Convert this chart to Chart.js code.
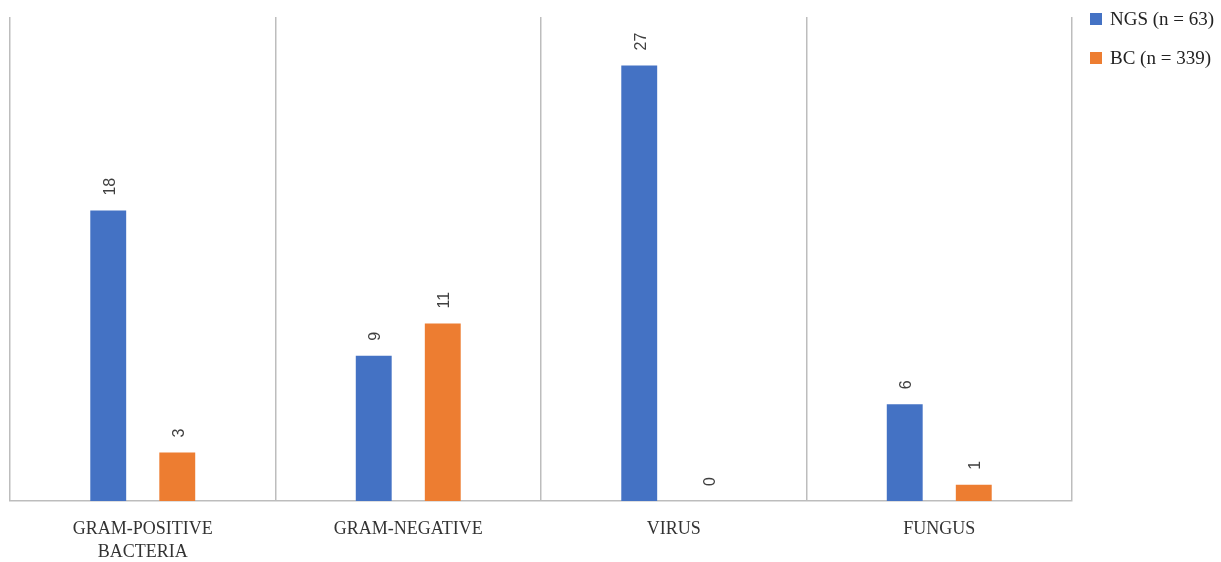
<!DOCTYPE html>
<html>
<head>
<meta charset="utf-8">
<script src="https://cdn.jsdelivr.net/npm/chart.js@4/dist/chart.umd.min.js"></script>
<style>
  html, body { margin: 0; padding: 0; background: #fff; }
  #wrap { width: 1221px; height: 562px; position: relative; }
</style>
</head>
<body>
<div id="wrap"><canvas id="c" width="1221" height="562"></canvas></div>
<script>
const categories = [["GRAM-POSITIVE", "BACTERIA"], "GRAM-NEGATIVE", "VIRUS", "FUNGUS"];
const ngsValues = [18, 9, 27, 6];
const bcValues = [3, 11, 0, 1];
const seriesNames = ["NGS (n = 63)", "BC (n = 339)"];
const seriesColors = ['#4472C4', '#ED7D31'];
const yMax = 30;

const serif = "'Liberation Serif', 'DejaVu Serif', serif";
const sans = "'Liberation Sans', Arial, sans-serif";

// Value labels written upward just above each bar
const barValueLabels = {
  id: 'barValueLabels',
  afterDatasetsDraw(chart) {
    const ctx = chart.ctx;
    ctx.save();
    ctx.font = "16px " + sans;
    ctx.fillStyle = '#404040';
    ctx.textAlign = 'left';
    ctx.textBaseline = 'middle';
    chart.data.datasets.forEach((ds, di) => {
      const meta = chart.getDatasetMeta(di);
      meta.data.forEach((bar, i) => {
        const top = Math.min(bar.y, bar.base);
        ctx.save();
        ctx.translate(bar.x + 2, top - 15);
        ctx.rotate(-Math.PI / 2);
        ctx.fillText(String(ds.data[i]), 0, 0);
        ctx.restore();
      });
    });
    ctx.restore();
  }
};

// Series key in the top-right corner, one swatch per dataset
const sideLegend = {
  id: 'sideLegend',
  afterDraw(chart) {
    const ctx = chart.ctx;
    const x0 = chart.chartArea.right + 18;
    ctx.save();
    ctx.font = "19px " + serif;
    ctx.textAlign = 'left';
    ctx.textBaseline = 'middle';
    chart.data.datasets.forEach((ds, i) => {
      const cy = 19 + i * 39;
      ctx.fillStyle = ds.backgroundColor;
      ctx.fillRect(x0, cy - 6, 12, 12);
      ctx.fillStyle = '#222';
      ctx.fillText(ds.label, x0 + 20, cy + 1);
    });
    ctx.restore();
  }
};

new Chart(document.getElementById('c'), {
  type: 'bar',
  data: {
    labels: categories,
    datasets: [
      { label: seriesNames[0], data: ngsValues, backgroundColor: seriesColors[0] },
      { label: seriesNames[1], data: bcValues, backgroundColor: seriesColors[1] }
    ]
  },
  options: {
    responsive: false,
    animation: false,
    events: [],
    categoryPercentage: 0.52,
    barPercentage: 0.52,
    layout: { padding: { left: 10, top: 17, right: 149, bottom: 0 } },
    plugins: {
      tooltip: { enabled: false },
      legend: { display: false }
    },
    scales: {
      x: {
        grid: { display: true, offset: true, drawTicks: false, color: '#bdbdbd', lineWidth: 1.5 },
        border: { display: true, color: '#bdbdbd', width: 1.5 },
        ticks: { color: '#333', padding: 17, font: { family: serif, size: 18, lineHeight: 1.28 }, maxRotation: 0 },
        afterFit(scale) { scale.height = 61; }
      },
      y: {
        display: false,
        min: 0,
        max: yMax
      }
    }
  },
  plugins: [barValueLabels, sideLegend]
});
</script>
</body>
</html>
